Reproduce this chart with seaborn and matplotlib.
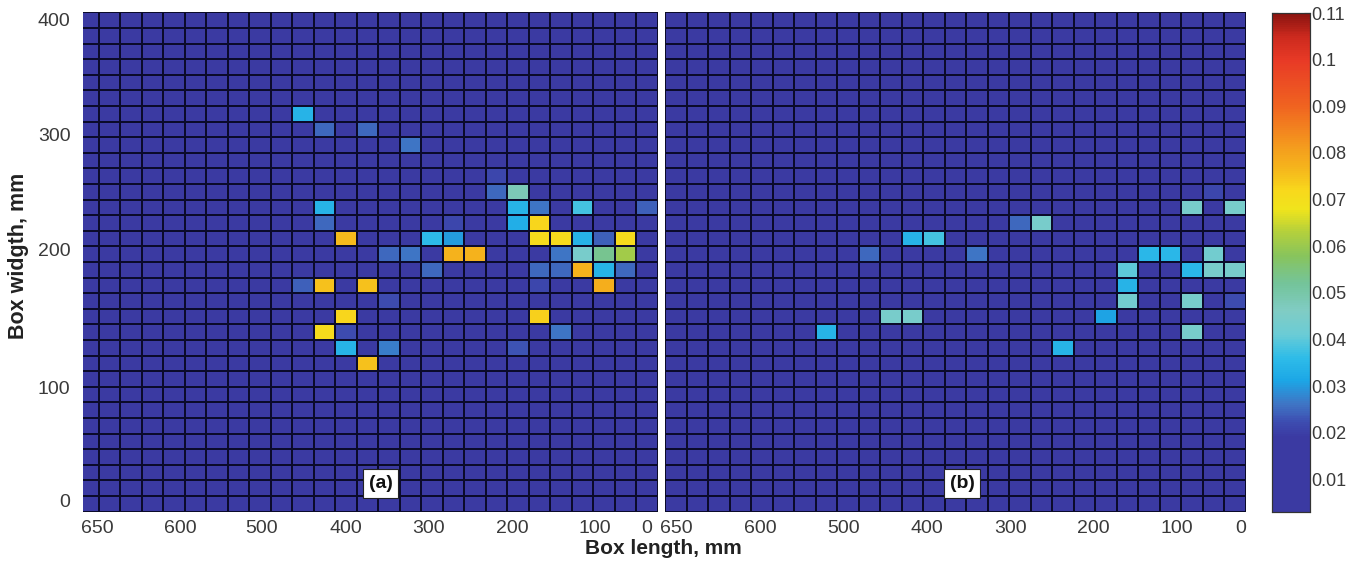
import numpy as np
import matplotlib
matplotlib.use("Agg")
import matplotlib.pyplot as plt
import seaborn as sns
from matplotlib.colors import LinearSegmentedColormap

# ---------------- data ----------------
n_rows, n_cols = 32, 27          # grid of width bins (rows, top->bottom) x length bins (cols, left->right)
background = 0.008

# panel (a): occupied cells (row index, column index, value)
a_rows = [6, 7, 7, 8, 10, 11, 11, 12, 12, 12, 12, 12, 13, 13, 13, 13,
          14, 14, 14, 14, 14, 14, 14, 14, 15, 15, 15, 15, 15, 15, 15, 15,
          16, 16, 16, 16, 16, 16, 17, 17, 17, 17, 17, 18, 19, 19, 20, 20, 20,
          21, 21, 21, 22]
a_cols = [10, 11, 13, 15, 19, 19, 20, 11, 20, 21, 23, 26, 11, 17, 20, 21,
          12, 16, 17, 21, 22, 23, 24, 25, 14, 15, 17, 18, 22, 23, 24, 25,
          16, 21, 22, 23, 24, 25, 10, 11, 13, 21, 24, 14, 12, 21, 11, 12, 22,
          12, 14, 20, 13]
a_vals = [0.034, 0.025, 0.025, 0.026, 0.021, 0.025, 0.048, 0.034, 0.034, 0.026, 0.038, 0.024,
          0.025, 0.021, 0.033, 0.072,
          0.076, 0.036, 0.030, 0.071, 0.071, 0.034, 0.024, 0.071,
          0.025, 0.026, 0.077, 0.077, 0.026, 0.044, 0.053, 0.061,
          0.025, 0.025, 0.025, 0.077, 0.034, 0.025,
          0.024, 0.075, 0.075, 0.021, 0.078,
          0.022, 0.072, 0.073, 0.071, 0.022, 0.026,
          0.034, 0.027, 0.023, 0.075]

# panel (b)
b_rows = [11, 12, 12, 13, 13, 14, 14, 15, 15, 15, 15, 15, 16, 16, 16, 16,
          17, 18, 18, 18, 19, 19, 19, 20, 20, 21]
b_cols = [25, 24, 26, 16, 17, 11, 12, 9, 14, 22, 23, 25, 21, 24, 25, 26,
          21, 21, 24, 26, 10, 11, 20, 7, 24, 18]
b_vals = [0.021, 0.044, 0.044, 0.025, 0.044, 0.034, 0.038, 0.025, 0.026, 0.035, 0.035, 0.043,
          0.040, 0.035, 0.044, 0.044,
          0.034, 0.043, 0.044, 0.022, 0.044, 0.044, 0.031, 0.034, 0.044, 0.034]

x_tick_labels = ["650", "600", "500", "400", "300", "200", "100", "0"]
y_tick_labels = ["400", "300", "200", "100", "0"]
cbar_ticks = [0.01, 0.02, 0.03, 0.04, 0.05, 0.06, 0.07, 0.08, 0.09, 0.1, 0.11]
cbar_tick_labels = ["0.01", "0.02", "0.03", "0.04", "0.05", "0.06", "0.07",
                    "0.08", "0.09", "0.1", "0.11"]
panel_labels = ["(a)", "(b)"]
x_label = "Box length, mm"
y_label = "Box widgth, mm"

vmin, vmax = 0.003, 0.11

# ---------------- build matrices ----------------
def build(rows, cols, vals):
    m = np.full((n_rows, n_cols), background)
    m[np.array(rows), np.array(cols)] = np.array(vals)
    return m

mat_a = build(a_rows, a_cols, a_vals)
mat_b = build(b_rows, b_cols, b_vals)

# ---------------- colormap (scanned jet-like) ----------------
anchors = [
    (0.003, "#3b3aa2"), (0.019, "#3b3aa2"), (0.022, "#3d4cb0"), (0.026, "#3f74c4"),
    (0.031, "#1ca6e6"), (0.036, "#2ebce8"), (0.041, "#6accd6"), (0.046, "#80ccc4"),
    (0.052, "#74c49a"), (0.058, "#88c45c"), (0.063, "#b4d03c"), (0.068, "#f0e41c"),
    (0.072, "#f8d81c"), (0.077, "#f5b41c"), (0.082, "#f4981e"), (0.090, "#f06420"),
    (0.100, "#e83a26"), (0.105, "#cc2a1e"), (0.110, "#8c1410"),
]
cmap = LinearSegmentedColormap.from_list(
    "scanjet", [((v - vmin) / (vmax - vmin), c) for v, c in anchors])

# ---------------- figure ----------------
sns.set_style("white")
plt.rcParams["font.family"] = ["Liberation Sans Narrow", "Liberation Sans", "DejaVu Sans"]

W, H = 1354, 574
fig = plt.figure(figsize=(W / 100, H / 100), dpi=100)

def px_axes(x0, y0, x1, y1):
    return fig.add_axes([x0 / W, 1 - y1 / H, (x1 - x0) / W, (y1 - y0) / H])

ax_a = px_axes(83, 12.4, 658, 511.7)
ax_b = px_axes(665, 12.4, 1246, 511.7)
cax = px_axes(1272, 13, 1310, 512)

grid_kw = dict(cmap=cmap, vmin=vmin, vmax=vmax, linewidths=1.1, linecolor="#0b0b2a")
sns.heatmap(mat_a, ax=ax_a, cbar=True, cbar_ax=cax, **grid_kw)
sns.heatmap(mat_b, ax=ax_b, cbar=False, **grid_kw)

ax_a.set_xlim(0.256, n_cols)
ax_b.set_xlim(0, n_cols)

tick_color = "#3a3a3a"
xpos_a = [0.91, 4.77, 8.58, 12.49, 16.35, 20.21, 24.07, 26.49]
xpos_b = [0.51, 4.42, 8.28, 12.19, 16.05, 19.90, 23.77, 26.74]
ypos = [0.6, 7.97, 15.34, 24.2, 31.4]

for ax, xpos in ((ax_a, xpos_a), (ax_b, xpos_b)):
    ax.set_xticks(xpos)
    ax.set_xticklabels(x_tick_labels, rotation=0, fontsize=14, color=tick_color)
    ax.tick_params(axis="x", length=0, pad=6)
    ax.set_xlabel("")
    ax.set_ylabel("")

ax_a.set_yticks(ypos)
ax_a.set_yticklabels(y_tick_labels, rotation=0, fontsize=14, color=tick_color)
ax_a.tick_params(axis="y", length=0, pad=9)
ax_b.set_yticks([])

# panel tags
for ax, lab, xc in ((ax_a, panel_labels[0], 14.1), (ax_b, panel_labels[1], 13.8)):
    ax.text(xc, 30.2, lab, ha="center", va="center", fontsize=14, fontweight="bold",
            family=["Liberation Sans", "DejaVu Sans"], color="#111111",
            bbox=dict(facecolor="white", edgecolor="#222222", linewidth=0.8,
                      boxstyle="square,pad=0.3"))

# colorbar
cax.set_yticks(cbar_ticks)
cax.set_yticklabels(cbar_tick_labels, fontsize=13, color=tick_color)
cax.tick_params(axis="y", direction="in", length=4, width=0.8, color="#222222",
                left=True, right=True, labelleft=False, labelright=True, pad=1)
for s in cax.spines.values():
    s.set_visible(True)
    s.set_linewidth(0.8)
    s.set_color("#333333")

# axis titles
fig.text(663 / W, 1 - 549 / H, x_label, ha="center", va="center", fontsize=15,
         fontweight="bold", family=["Liberation Sans", "DejaVu Sans"], color="#222222")
fig.text(19 / W, 1 - 256 / H, y_label, ha="center", va="center", fontsize=15.5,
         fontweight="bold", rotation=90, family=["Liberation Sans", "DejaVu Sans"],
         color="#222222")

fig.savefig("out.png", dpi=100, facecolor="white")
